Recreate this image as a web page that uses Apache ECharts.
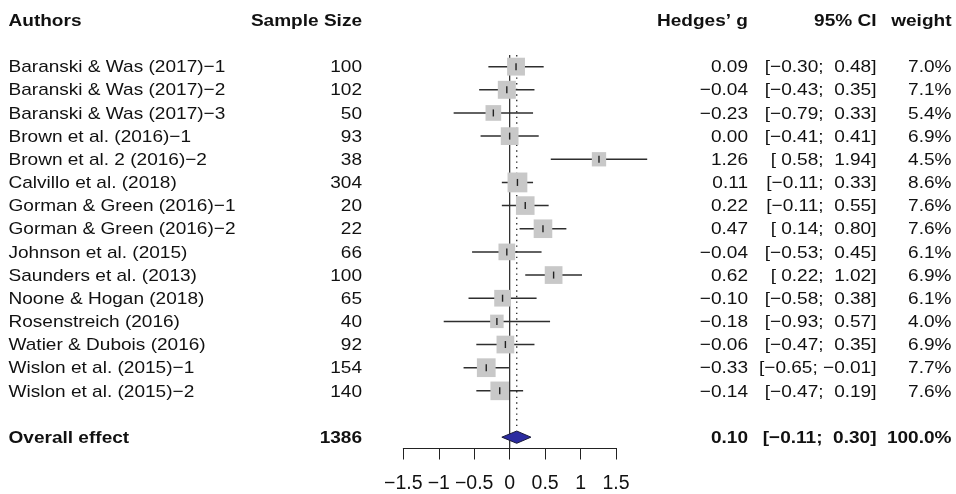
<!DOCTYPE html>
<html><head><meta charset="utf-8">
<script src="https://cdn.jsdelivr.net/npm/echarts@6/dist/echarts.min.js"></script>
<style>html,body{margin:0;padding:0;background:#fff}#c{width:956px;height:494px}</style>
</head><body><div id="c"></div>
<script>
// ---- data ----
const authors = [
  'Baranski & Was (2017)\u22121','Baranski & Was (2017)\u22122','Baranski & Was (2017)\u22123',
  'Brown et al. (2016)\u22121','Brown et al. 2 (2016)\u22122','Calvillo et al. (2018)',
  'Gorman & Green (2016)\u22121','Gorman & Green (2016)\u22122','Johnson et al. (2015)',
  'Saunders et al. (2013)','Noone & Hogan (2018)','Rosenstreich (2016)',
  'Watier & Dubois (2016)','Wislon et al. (2015)\u22121','Wislon et al. (2015)\u22122'
];
const sampleSize = [100,102,50,93,38,304,20,22,66,100,65,40,92,154,140];
const hedgesG = [0.09,-0.04,-0.23,0.00,1.26,0.11,0.22,0.47,-0.04,0.62,-0.10,-0.18,-0.06,-0.33,-0.14];
const ciLower = [-0.30,-0.43,-0.79,-0.41,0.58,-0.11,-0.11,0.14,-0.53,0.22,-0.58,-0.93,-0.47,-0.65,-0.47];
const ciUpper = [0.48,0.35,0.33,0.41,1.94,0.33,0.55,0.80,0.45,1.02,0.38,0.57,0.35,-0.01,0.19];
const weights = [7.0,7.1,5.4,6.9,4.5,8.6,7.6,7.6,6.1,6.9,6.1,4.0,6.9,7.7,7.6];
const overallLabel = 'Overall effect';
const overallN = 1386;
const overallG = 0.10;
const overallLower = -0.11;
const overallUpper = 0.30;
const overallWeight = 100.0;
const headers = ['Authors','Sample Size','Hedges\u2019 g','95% CI','weight'];
const xTicks = [-1.5,-1,-0.5,0,0.5,1,1.5];

// ---- layout ----
const FIRST_ROW = 2, OVERALL_ROW = 18, HEADER_ROW = 0;
const Y_MAX = 18.468;
const FONT = '"Liberation Sans", Arial, Helvetica, sans-serif';
const FS = 17, SX = 1.12;
const TXT = '#111111';
const colX = {author: 8.5, n: 362, g: 748, ci: 876.5, w: 951.5};

function fmt(v){ return (v < 0 ? '\u2212' : '') + Math.abs(v).toFixed(2); }
function pad(v){ return v < 0 ? fmt(v) : ' ' + fmt(v); }
function ciStr(lo, hi){ return '[' + pad(lo) + '; ' + pad(hi) + ']'; }

const studyData = hedgesG.map((g, i) => [g, FIRST_ROW + i, ciLower[i], ciUpper[i], weights[i]]);

const textRows = [];
textRows.push({row: HEADER_ROW, bold: true, cells: headers});
authors.forEach((a, i) => textRows.push({row: FIRST_ROW + i, bold: false,
  cells: [a, String(sampleSize[i]), fmt(hedgesG[i]), ciStr(ciLower[i], ciUpper[i]), weights[i].toFixed(1) + '%']}));
textRows.push({row: OVERALL_ROW, bold: true,
  cells: [overallLabel, String(overallN), fmt(overallG), ciStr(overallLower, overallUpper), overallWeight.toFixed(1) + '%']});

const chart = echarts.init(document.getElementById('c'), null, {renderer: 'canvas'});

function textEl(x, y, text, align, bold){
  return {type: 'text', x: x, y: y + 1, scaleX: SX, scaleY: 1,
    style: {x: 0, y: 0, text: text, align: align, verticalAlign: 'middle',
      font: (bold ? 'bold ' : '') + FS + 'px ' + FONT, fill: TXT}};
}

const option = {
  animation: false,
  backgroundColor: '#ffffff',
  grid: {left: 403.3, right: 340, top: 8.75, bottom: 43.3, containLabel: false},
  xAxis: {
    type: 'value', min: -1.5, max: 1.5, interval: 0.5,
    axisLine: {show: true, onZero: false, lineStyle: {color: '#222', width: 1}},
    axisTick: {show: true, length: 11.5, lineStyle: {color: '#222', width: 1}},
    splitLine: {show: false},
    axisLabel: {margin: 26, fontSize: 19.5, fontFamily: FONT, color: TXT,
      formatter: v => (v < 0 ? '\u2212' : '') + String(Math.abs(v))}
  },
  yAxis: {type: 'value', inverse: true, min: -0.5, max: Y_MAX, show: false},
  series: [
    { // reference lines
      type: 'custom', data: [[0, overallG]], z: 1,
      renderItem: function(params, api){
        const top = api.coord([0, FIRST_ROW - 0.5])[1];
        const bot = api.coord([0, Y_MAX])[1];
        const x0 = api.coord([0, 0])[0];
        const xg = api.coord([overallG, 0])[0];
        const dotBot = api.coord([0, OVERALL_ROW - 0.42])[1];
        return {type: 'group', children: [
          {type: 'line', shape: {x1: x0, y1: top, x2: x0, y2: bot}, style: {stroke: '#333', lineWidth: 1.3}},
          {type: 'line', shape: {x1: xg, y1: top, x2: xg, y2: dotBot}, style: {stroke: '#222', lineWidth: 1.3, lineDash: [1.4, 4.2]}}
        ]};
      }
    },
    { // studies
      type: 'custom', data: studyData, z: 3,
      encode: {x: [0, 2, 3], y: 1},
      renderItem: function(params, api){
        const row = api.value(1);
        const pt = api.coord([api.value(0), row]);
        const lo = api.coord([api.value(2), row]);
        const hi = api.coord([api.value(3), row]);
        const s = 6.75 * Math.sqrt(api.value(4));
        return {type: 'group', children: [
          {type: 'line', shape: {x1: lo[0], y1: pt[1], x2: hi[0], y2: pt[1]}, style: {stroke: '#2e2e2e', lineWidth: 1.5}},
          {type: 'rect', shape: {x: pt[0] - s / 2, y: pt[1] - s / 2, width: s, height: s}, style: {fill: '#c8c8c8'}},
          {type: 'line', shape: {x1: pt[0], y1: pt[1] - 3.5, x2: pt[0], y2: pt[1] + 3.5}, style: {stroke: '#222', lineWidth: 1.4}}
        ]};
      }
    },
    { // overall diamond
      type: 'custom', data: [[overallG, OVERALL_ROW, overallLower, overallUpper]], z: 4,
      renderItem: function(params, api){
        const row = api.value(1);
        const c = api.coord([api.value(0), row]);
        const lo = api.coord([api.value(2), row]);
        const hi = api.coord([api.value(3), row]);
        const h = api.size([0, 0.265])[1];
        return {type: 'polygon', shape: {points: [[lo[0], c[1]], [c[0], c[1] - h], [hi[0], c[1]], [c[0], c[1] + h]]},
          style: {fill: '#2b2ba0', stroke: '#1a1a3a', lineWidth: 1}};
      }
    },
    { // text columns
      type: 'custom', data: textRows.map((r, i) => [0, r.row, i]), z: 5, silent: true,
      renderItem: function(params, api){
        const r = textRows[api.value(2)];
        const y = api.coord([0, api.value(1)])[1];
        const c = r.cells;
        return {type: 'group', children: [
          textEl(colX.author, y, c[0], 'left', r.bold),
          textEl(colX.n, y, c[1], 'right', r.bold),
          textEl(colX.g, y, c[2], 'right', r.bold),
          textEl(colX.ci, y, c[3], 'right', r.bold),
          textEl(colX.w, y, c[4], 'right', r.bold)
        ]};
      }
    }
  ]
};
chart.setOption(option);
</script>
</body></html>
